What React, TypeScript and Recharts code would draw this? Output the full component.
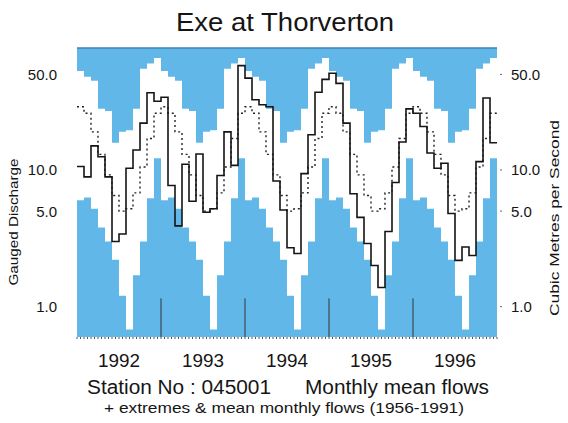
import React from 'react';
import {
  ComposedChart,
  Area,
  Line,
  XAxis,
  YAxis,
  CartesianGrid,
  ReferenceLine,
} from 'recharts';

// monthly mean flows (m3/s), one list per year
const flows1992 = [10.6, 8.9, 15.0, 12.5, 8.9, 3.0, 3.4, 10.3, 14.0, 22, 36.7, 31.8];
const flows1993 = [34, 7.7, 3.9, 11.0, 5.9, 13.1, 4.9, 5.2, 9.1, 19, 10.8, 58];
const flows1994 = [47, 32.6, 30, 29, 8.3, 5.1, 2.7, 2.45, 9.4, 18.1, 37, 46];
const flows1995 = [51, 43, 22, 6.7, 4.5, 2.9, 2.0, 1.38, 3.55, 8.1, 16, 28];
const flows1996 = [26, 20.8, 13.3, 10.3, 11.2, 4.8, 2.18, 2.73, 2.37, 11.5, 33.6, 15.8];

// 1956-1991 record, Jan..Dec
const maxFlows = [53, 48, 45, 28, 27, 15.8, 19, 19.5, 28, 55, 60, 66];
const minFlows = [6.0, 6.3, 5.2, 3.8, 3.0, 2.2, 1.2, 0.68, 1.7, 3.0, 6.2, 12.2];
const meanFlows = [29, 26, 19, 13, 9.2, 6.5, 5.0, 5.2, 6.8, 10.5, 17, 26];

const years = ['1992', '1993', '1994', '1995', '1996'];
const flowTicks = [1, 5, 10, 50];
const separators = [12, 24, 36, 48];

const flows = [...flows1992, ...flows1993, ...flows1994, ...flows1995, ...flows1996];

// one extra point at the end so the step lines cover December 1996
const data = Array.from({ length: flows.length + 1 }, (_, i) => {
  const m = Math.min(i, flows.length - 1);
  const c = m % 12;
  return { t: i, flow: flows[m], mean: meanFlows[c], range: [minFlows[c], maxFlows[c]] };
});

const halfMonths = Array.from({ length: flows.length * 2 + 1 }, (_, i) => i / 2);

const BLUE = '#61b8e8';
const INK = '#151515';
const FONT = '"Liberation Sans", Arial, Helvetica, sans-serif';
const DOMAIN: [number, number] = [0.6, 78];

const LeftTick = ({ x, y, payload }: any) => (
  <text x={x - 20} y={y} dy="0.36em" textAnchor="end" fontSize={15} fill={INK} fontFamily={FONT}>
    {Number(payload.value).toFixed(1)}
  </text>
);

const RightTick = ({ x, y, payload }: any) => (
  <g>
    <line x1={x + 3} x2={x + 5} y1={y} y2={y} stroke="#666" />
    <text x={x + 14} y={y} dy="0.36em" textAnchor="start" fontSize={15} fill={INK} fontFamily={FONT}>
      {Number(payload.value).toFixed(1)}
    </text>
  </g>
);

const MonthTick = ({ x, y, payload }: any) => {
  const v = payload.value;
  const idx = (v - 6) / 12;
  const label = Number.isInteger(idx) ? years[idx] : null;
  return (
    <g>
      <line x1={x} x2={x} y1={y} y2={y + 2} stroke="#555" />
      {label && (
        <text x={x} y={y + 30} textAnchor="middle" fontSize={18} fill={INK} fontFamily={FONT} textLength={42} lengthAdjust="spacingAndGlyphs">
          {label}
        </text>
      )}
    </g>
  );
};

export default function App() {
  return (
    <div style={{ position: 'absolute', left: 0, top: 0, width: 568, height: 423, background: '#fff' }}>
      <ComposedChart width={568} height={423} data={data} margin={{ top: 48, right: 0, bottom: 42, left: 0 }}>
        <CartesianGrid horizontal={false} vertical={false} fill={BLUE} fillOpacity={1} />
        <XAxis
          dataKey="t"
          type="number"
          domain={[0, 60]}
          ticks={halfMonths}
          interval={0}
          tick={<MonthTick />}
          tickLine={false}
          axisLine={false}
          tickSize={0}
          tickMargin={0}
          height={44}
        />
        <YAxis
          scale="log"
          type="number"
          domain={DOMAIN}
          allowDataOverflow
          ticks={flowTicks}
          tick={<LeftTick />}
          tickLine={false}
          axisLine={false}
          tickSize={0}
          tickMargin={0}
          width={77}
        />
        <YAxis
          yAxisId="r"
          orientation="right"
          scale="log"
          type="number"
          domain={DOMAIN}
          allowDataOverflow
          ticks={flowTicks}
          tick={<RightTick />}
          tickLine={false}
          axisLine={false}
          tickSize={0}
          tickMargin={0}
          width={71}
        />
        <Area
          dataKey="range"
          type="stepAfter"
          fill="#ffffff"
          fillOpacity={1}
          stroke="none"
          isAnimationActive={false}
        />
        {separators.map((s) => (
          <ReferenceLine
            key={s}
            segment={[{ x: s, y: 0.6 }, { x: s, y: 1.15 }]}
            stroke="#333"
            strokeWidth={1}
          />
        ))}
        <ReferenceLine y={78} stroke="#3f83b3" strokeWidth={1.5} />
        <Line
          dataKey="mean"
          type="stepAfter"
          stroke="#222"
          strokeWidth={1.4}
          strokeDasharray="2 3"
          dot={false}
          isAnimationActive={false}
        />
        <Line
          dataKey="flow"
          type="stepAfter"
          stroke={INK}
          strokeWidth={1.6}
          dot={false}
          isAnimationActive={false}
        />
      </ComposedChart>
      <svg width={568} height={423} style={{ position: 'absolute', left: 0, top: 0, pointerEvents: 'none' }} fontFamily={FONT} fill={INK}>
        <text x={285} y={31} fontSize={26} textAnchor="middle" textLength={218} lengthAdjust="spacingAndGlyphs">
          Exe at Thorverton
        </text>
        <text x={87} y={394} fontSize={20} textLength={184} lengthAdjust="spacingAndGlyphs">
          Station No : 045001
        </text>
        <text x={305} y={394} fontSize={20} textLength={184} lengthAdjust="spacingAndGlyphs">
          Monthly mean flows
        </text>
        <text x={104} y={413} fontSize={15} textLength={360} lengthAdjust="spacingAndGlyphs">
          + extremes &amp; mean monthly flows (1956-1991)
        </text>
        <text
          x={13}
          y={222}
          fontSize={13}
          textAnchor="middle"
          dominantBaseline="central"
          transform="rotate(-90 13 222)"
          textLength={127}
          lengthAdjust="spacingAndGlyphs"
        >
          Gauged Discharge
        </text>
        <text
          x={554}
          y={218}
          fontSize={13}
          textAnchor="middle"
          dominantBaseline="central"
          transform="rotate(-90 554 218)"
          textLength={196}
          lengthAdjust="spacingAndGlyphs"
        >
          Cubic Metres per Second
        </text>
      </svg>
    </div>
  );
}
